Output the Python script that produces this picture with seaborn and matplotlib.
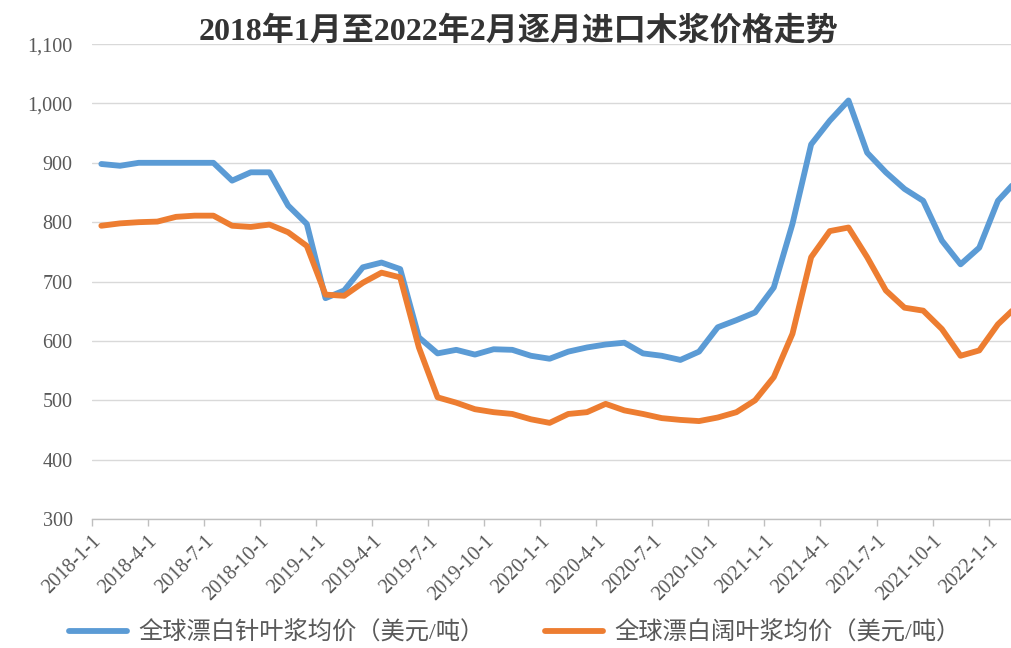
import numpy as np
import pandas as pd
import matplotlib
matplotlib.use("Agg")
import matplotlib.pyplot as plt
from matplotlib.ticker import FuncFormatter, MultipleLocator
import seaborn as sns

# monthly series, 2018-01 .. 2022-02 (USD/ton)
months = pd.date_range("2018-01-01", "2022-02-01", freq="MS")
softwood = [898, 895, 900, 900, 900, 900, 900, 870, 884, 884, 828, 797,
            672, 685, 724, 732, 721, 606, 579, 585, 577, 586, 585, 575,
            570, 582, 589, 594, 597, 579, 575, 568, 582, 623, 635, 648,
            690, 797, 931, 971, 1005, 917, 884, 856, 836, 769, 729, 757,
            836, 870]
hardwood = [794, 798, 800, 801, 809, 811, 811, 794, 792, 796, 783, 760,
            678, 676, 698, 715, 707, 589, 505, 496, 485, 480, 477, 468,
            462, 477, 480, 494, 483, 477, 470, 467, 465, 471, 480, 500,
            539, 612, 741, 785, 791, 741, 685, 656, 651, 620, 575, 584,
            628, 658]
series_names = ["全球漂白针叶浆均价（美元/吨）", "全球漂白阔叶浆均价（美元/吨）"]
colors = ["#5B9BD5", "#ED7D31"]
title = "2018年1月至2022年2月逐月进口木浆价格走势"

tick_labels = [f"{d.year}-{d.month}-1" for d in months[::3]]

sns.set_theme(style="white")
plt.rcParams["font.family"] = ["Liberation Serif", "Noto Sans CJK SC", "DejaVu Sans"]

fig = plt.figure(figsize=(10.11, 6.48), dpi=100)
ax = fig.add_axes([0.091, 0.199, 0.909, 0.733])

pos = np.arange(len(months)) + 0.5
for vals, name, c in zip([softwood, hardwood], series_names, colors):
    sns.lineplot(x=pos, y=vals, ax=ax, color=c, linewidth=4.2, label=name,
                 solid_joinstyle="round", solid_capstyle="round")

ax.set_ylim(300, 1100)
ax.set_xlim(0, 49.2)
ax.yaxis.set_major_locator(MultipleLocator(100))
ax.yaxis.set_major_formatter(FuncFormatter(lambda v, p: f"{int(v):,}"))
ax.grid(axis="y", color="#D9D9D9", linewidth=1)
ax.set_axisbelow(True)

ax.set_xticks(np.arange(0, len(months), 3))
ax.set_xticklabels(tick_labels, rotation=45, ha="right", rotation_mode="anchor")
ax.tick_params(axis="x", length=5, width=1, color="#BFBFBF", direction="out",
               labelsize=14.5, labelcolor="#595959", pad=4, bottom=True)
ax.tick_params(axis="y", length=0, labelsize=14.5, labelcolor="#595959", pad=14)

for s in ["top", "right", "left"]:
    ax.spines[s].set_visible(False)
ax.spines["bottom"].set_color("#BFBFBF")
ax.spines["bottom"].set_linewidth(1)

fig.text(0.513, 0.952, title, ha="center", va="center", fontsize=23,
         fontweight="bold", color="#333333")

ax.legend(loc="center", bbox_to_anchor=(0.46, -0.24), ncol=2, frameon=False,
          fontsize=17.5, handlelength=2.4, columnspacing=2.5, handletextpad=0.45,
          labelcolor="#595959", bbox_transform=ax.transAxes)

fig.savefig("out.png", dpi=100)
